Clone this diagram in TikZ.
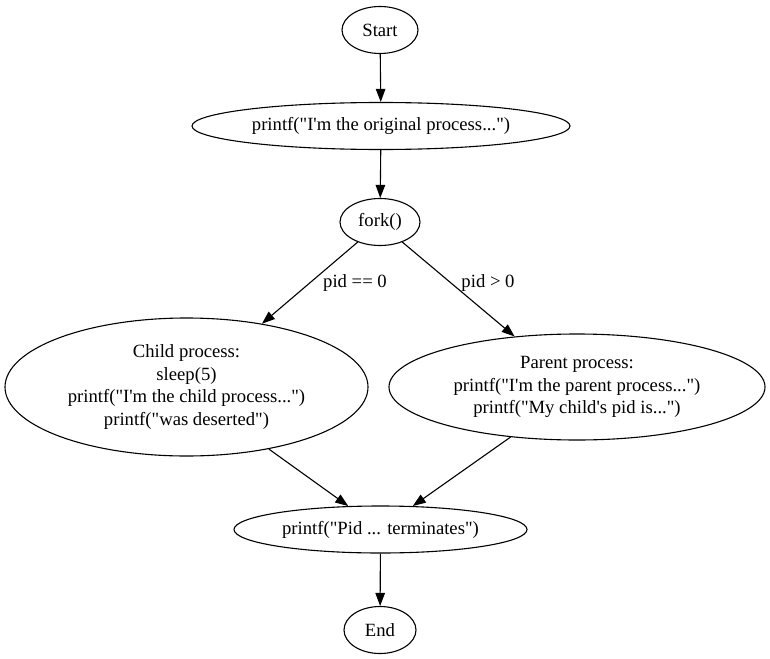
\documentclass[tikz,border=0pt]{standalone}
\usepackage{fontspec}
\setmainfont{Liberation Serif}[Ligatures=TeXOff]
\usetikzlibrary{shapes.geometric,arrows.meta}
\begin{document}
\begin{tikzpicture}[x=1pt,y=-1pt,
  every node/.style={font=\fontsize{18.67}{22.4}\selectfont},
  nd/.style={ellipse,draw,line width=1.1pt,inner sep=0pt,align=center},
  lbl/.style={inner sep=0pt},
  arr/.style={line width=1.1pt,-{Triangle[length=13pt,width=9.5pt]}}]
\useasboundingbox (0,0) rectangle (770,658);
\node[nd,minimum width=76,minimum height=47] (start) at (380,30) {Start};
\node[nd,minimum width=378,minimum height=47] (orig) at (381,126) {printf("I'm the original process...")};
\node[nd,minimum width=80,minimum height=47] (fork) at (380,222) {fork()};
\node[nd,minimum width=363,minimum height=138] (child) at (186.5,387) {Child process:\\sleep(5)\\printf("I'm the child process...")\\printf("was deserted")};
\node[nd,minimum width=376,minimum height=106] (parent) at (577,387) {Parent process:\\printf("I'm the parent process...")\\printf("My child's pid is...")};
\node[nd,minimum width=293,minimum height=47] (pid) at (380.5,529.5) {printf("Pid ... terminates")};
\node[nd,minimum width=72,minimum height=47] (end) at (380,630) {End};
\node[lbl] (l0) at (355,283) {pid == 0};
\node[lbl] (l1) at (488,283) {pid > 0};
\draw[arr] (start) -- (orig);
\draw[arr] (orig) -- (fork);
\draw[arr] (fork.222) -- (child.40);
\draw[arr] (fork.318) -- (parent.141);
\draw[arr] (child.323) -- (pid.144);
\draw[arr] (parent.217) -- (pid.36);
\draw[arr] (pid) -- (end);
\end{tikzpicture}
\end{document}
